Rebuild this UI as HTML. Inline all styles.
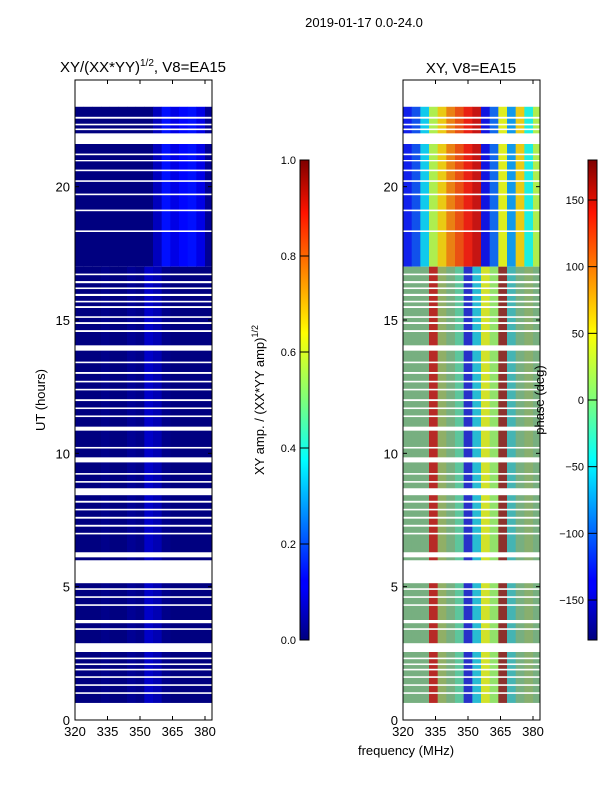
<!DOCTYPE html>
<html><head><meta charset="utf-8"><style>
body{margin:0;background:#fff;}
svg{display:block;font-family:"Liberation Sans",sans-serif;}
</style></head><body>
<svg id="fig" width="600" height="800" viewBox="0 0 600 800" xmlns="http://www.w3.org/2000/svg">
<defs>
<linearGradient id="jet" x1="0" y1="1" x2="0" y2="0">
<stop offset="0" stop-color="#00007f"/><stop offset="0.11" stop-color="#0000ff"/><stop offset="0.125" stop-color="#0000ff"/><stop offset="0.34" stop-color="#00dcff"/><stop offset="0.375" stop-color="#00ffff"/><stop offset="0.5" stop-color="#7dff7a"/><stop offset="0.64" stop-color="#ffff00"/><stop offset="0.66" stop-color="#ffea00"/><stop offset="0.89" stop-color="#ff1300"/><stop offset="1" stop-color="#7f0000"/>
</linearGradient>
</defs>
<g id="root"></g>
</svg>
<script>
// ---- data ----
const freqBinStarts = [320,324,328,332,336,340,344,348,352,356,360,364,368,372,376,380];
const binWidth = 3.95;
const ampTop = [0.0,0.0,0.0,0.0,0.0,0.0,0.0,0.0,0.0,0.06,0.14,0.1,0.13,0.14,0.1,0.02];
const ampBottom = [0.0,0.0,0.0,0.01,0.0,0.0,0.02,0.01,0.07,0.05,0.01,0.0,0.0,0.0,0.0,0.0];
const phaseTop = [-130,-110,-60,20,60,90,110,130,150,-140,-100,40,-80,60,-40,20];
const phaseBottom = [0,0,0,150,30,0,-20,-140,-60,40,10,170,-50,0,20,0];
const noiseLevel = [0.7,0.7,0.7,0.3,0.7,0.7,0.5,0.35,0.35,0.25,0.25,0.35,0.6,0.7,0.7,0.7];
const topSegment = [17.0,23.0];
const bottomSegment = [0.6,17.0];
const gaps = [[23.0,24],[22.55,22.62],[22.3,22.36],[22.12,22.18],[21.6,22.0],[21.18,21.24],[20.95,21.0],[20.58,20.64],[20.18,20.24],[19.68,19.74],[19.08,19.14],[18.3,18.36],[16.68,16.74],[16.38,16.46],[16.16,16.22],[15.9,15.98],[15.66,15.72],[15.45,15.52],[15.08,15.14],[14.85,14.92],[14.55,14.62],[13.85,14.05],[13.38,13.44],[12.98,13.05],[12.66,12.72],[12.36,12.42],[11.96,12.03],[11.66,11.72],[11.36,11.42],[10.85,11.0],[10.18,10.24],[9.66,9.85],[9.2,9.26],[8.9,8.96],[8.43,8.69],[8.15,8.22],[7.86,7.92],[7.55,7.62],[7.25,7.32],[6.96,7.02],[6.1,6.29],[5.13,5.99],[4.88,4.94],[4.58,4.64],[4.28,4.34],[3.63,3.75],[3.38,3.44],[2.55,2.88],[2.28,2.34],[2.06,2.12],[1.86,1.92],[1.58,1.64],[1.28,1.34],[0.98,1.04],[0.6,0.64],[0,0.6]];
const xTicks = [320,335,350,365,380];
const yTicks = [0,5,10,15,20];
const cb1Ticks = [0.0,0.2,0.4,0.6,0.8,1.0];
const cb2Ticks = [-150,-100,-50,0,50,100,150];

// ---- scales ----
const Y0=720, Y1=80;
const yS = h => Y0 - (h/24)*(Y0-Y1);
const panels = [{x0:75,name:'amplitude'},{x0:403,name:'phase'}];
const xS = (p,f) => p.x0 + (f-320)*(130/60);
const PW = 137;
function jetRGB(v){v=Math.max(0,Math.min(1,v));
 return [Math.max(0,Math.min(1,1.5-Math.abs(4*v-3))),Math.max(0,Math.min(1,1.5-Math.abs(4*v-2))),Math.max(0,Math.min(1,1.5-Math.abs(4*v-1)))];}
const NOISE_MEAN=[0.45,0.55,0.5];
function rgb(c){return `rgb(${Math.round(c[0]*255)},${Math.round(c[1]*255)},${Math.round(c[2]*255)})`;}
function mix(a,b,t){return a.map((v,i)=>v*(1-t)+b[i]*t);}
const NS='http://www.w3.org/2000/svg';
const root=document.getElementById('root');
function mk(tag,attrs,parent){const e=document.createElementNS(NS,tag);for(const k in attrs)e.setAttribute(k,attrs[k]);(parent||root).appendChild(e);return e;}
function txt(s,x,y,size,anchor,parent,rot){const t=mk('text',{x:x,y:y,'font-size':size,'text-anchor':anchor||'middle',fill:'#000'},parent);if(rot)t.setAttribute('transform',`rotate(-90 ${x} ${y})`);t.textContent=s;return t;}

const t0=txt('2019-01-17 0.0-24.0',364,27,13);



panels.forEach((p,pi)=>{
 const g=mk('g',{});
 
 
 const clipId='clip'+pi;
 const cp=mk('clipPath',{id:clipId},g);mk('rect',{x:p.x0,y:Y1,width:PW,height:Y0-Y1},cp);
 const hm=mk('g',{'clip-path':`url(#${clipId})`},g);
 freqBinStarts.forEach((f,i)=>{
  const x=xS(p,f),w=binWidth*130/60+0.5;
  [[topSegment,0],[bottomSegment,1]].forEach(([seg,si])=>{
   let col;
   if(pi===0) col=rgb(jetRGB(si===0?ampTop[i]:ampBottom[i]));
   else {
    const base=jetRGB(((si===0?phaseTop[i]:phaseBottom[i])+180)/360);
    col=rgb(mix(base,NOISE_MEAN,si===0?0.15:noiseLevel[i]));
   }
   const r=mk('rect',{x:x,y:yS(seg[1]),width:w,height:yS(seg[0])-yS(seg[1]),fill:col},hm);
   
   
  });
 });
 gaps.forEach(gp=>{
  const r=mk('rect',{x:p.x0,y:yS(gp[1]),width:PW,height:Math.max(1,yS(gp[0])-yS(gp[1])),fill:'#fff'},hm);
  
  
 });
 const fr=mk('rect',{x:p.x0,y:Y1,width:PW,height:Y0-Y1,fill:'none',stroke:'#000','stroke-width':1},g);
 
 
 xTicks.forEach(v=>{const x=xS(p,v);
  mk('line',{x1:x,x2:x,y1:Y0,y2:Y0-4,stroke:'#000'},g);mk('line',{x1:x,x2:x,y1:Y1,y2:Y1+4,stroke:'#000'},g);
  const t=txt(String(v),x,Y0+16,13,'middle',g);
  
  });
 yTicks.forEach(v=>{const y=yS(v);
  mk('line',{x1:p.x0,x2:p.x0+4,y1:y,y2:y,stroke:'#000'},g);mk('line',{x1:p.x0+PW,x2:p.x0+PW-4,y1:y,y2:y,stroke:'#000'},g);
  const t=txt(String(v),p.x0-5,y+5,13,'end',g);
  
  });
});
const tl=mk('text',{x:143,y:72,'font-size':15,'text-anchor':'middle'});
tl.innerHTML='XY/(XX*YY)<tspan font-size="10" dy="-6">1/2</tspan><tspan dy="6">, V8=EA15</tspan>';


const tr=txt('XY, V8=EA15',471,73,15);


const yl=txt('UT (hours)',45,400,13,'middle',null,true);


const xl=txt('frequency (MHz)',406,755,13);



const cbs=[{x:300,ticks:cb1Ticks,min:0,max:1,fmt:v=>v.toFixed(1),name:'amplitude-colorbar'},{x:588,ticks:cb2Ticks,min:-180,max:180,fmt:v=>(v<0?'\u2212'+(-v):String(v)),name:'phase-colorbar'}];
cbs.forEach(c=>{
 const g=mk('g',{});
 
 
 mk('rect',{x:c.x,y:160,width:9,height:480,fill:'url(#jet)',stroke:'#000','stroke-width':1},g);
 c.ticks.forEach(v=>{const y=640-(v-c.min)/(c.max-c.min)*480;
  mk('line',{x1:c.x,x2:c.x+9,y1:y,y2:y,stroke:'#000','stroke-width':1},g);
  const t=txt(c.fmt(v),c.x-4,y+4,11,'end',g);
  
  });
});
const cl1=mk('text',{x:264,y:400,'font-size':13,'text-anchor':'middle',transform:'rotate(-90 264 400)'});
cl1.innerHTML='XY amp. / (XX*YY amp)<tspan font-size="9" dy="-6">1/2</tspan>';


const cl2=txt('phase (deg)',544,400,13,'middle',null,true);


</script>
</body></html>
